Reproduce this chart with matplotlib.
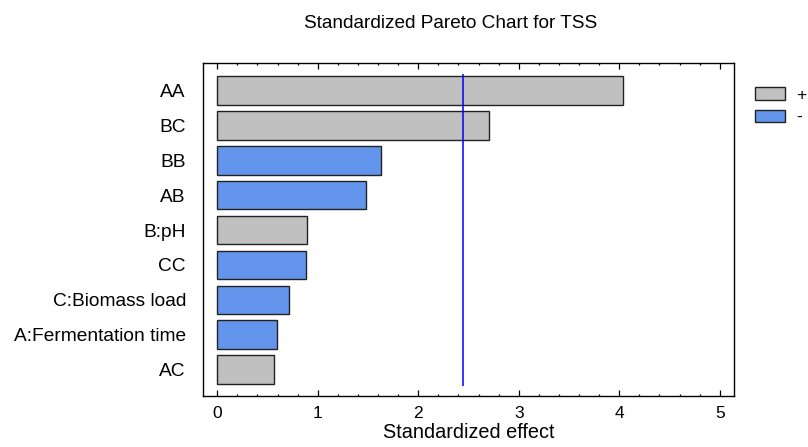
import numpy as np
import matplotlib
matplotlib.use('Agg')
import matplotlib.pyplot as plt
from matplotlib.patches import Patch
from matplotlib.ticker import MultipleLocator

plt.rcParams['font.family'] = ['Liberation Sans', 'DejaVu Sans']

# effects, top to bottom as in the chart
terms = ['AA', 'BC', 'BB', 'AB', 'B:pH', 'CC', 'C:Biomass load',
         'A:Fermentation time', 'AC']
effects = [4.04, 2.70, 1.63, 1.48, 0.89, 0.88, 0.71, 0.59, 0.565]
signs = ['+', '+', '-', '-', '+', '-', '-', '-', '+']
critical = 2.447

pos_color = '#c0c0c0'
neg_color = '#6495ed'

fig = plt.figure(figsize=(8.08, 4.47), dpi=100)
ax = fig.add_axes([0.2516, 0.1141, 0.6564, 0.745])

y = np.arange(len(terms))[::-1]
colors = [pos_color if s == '+' else neg_color for s in signs]
ax.barh(y, effects, height=0.82, color=colors, edgecolor='#222222', linewidth=1.0)
ax.vlines(critical, -0.48, len(terms) - 0.52, color='#0000ff', linewidth=1.1)

ax.set_xlim(-0.139, 5.138)
ax.set_ylim(-0.754, len(terms) - 0.215)
ax.set_yticks(y)
ax.set_yticklabels(terms, fontsize=13.8)
ax.tick_params(axis='y', length=0, pad=12.5)

ax.xaxis.set_major_locator(MultipleLocator(1))
ax.xaxis.set_minor_locator(MultipleLocator(0.2))
ax.tick_params(axis='x', which='both', direction='in', top=True, labelsize=12.5, pad=7)
ax.tick_params(axis='x', which='major', length=4.3, width=0.9)
ax.tick_params(axis='x', which='minor', length=1.7, width=0.9)
for sp in ax.spines.values():
    sp.set_linewidth(1.0)

ax.set_xlabel('Standardized effect', fontsize=14.3, labelpad=2)
fig.text(0.5575, 1 - 28.3 / 447, 'Standardized Pareto Chart for TSS',
         fontsize=13.7, ha='center', va='baseline')

handles = [Patch(facecolor=pos_color, edgecolor='#222222', linewidth=1.0),
           Patch(facecolor=neg_color, edgecolor='#222222', linewidth=1.0)]
fig.legend(handles, ['+', '-'], loc='upper left', bbox_to_anchor=(0.9344, 0.8047),
           frameon=False, fontsize=12.5, handlelength=1.75, handleheight=0.73,
           labelspacing=0.4, handletextpad=0.6, borderpad=0, borderaxespad=0)

fig.savefig('out.png', dpi=100)
